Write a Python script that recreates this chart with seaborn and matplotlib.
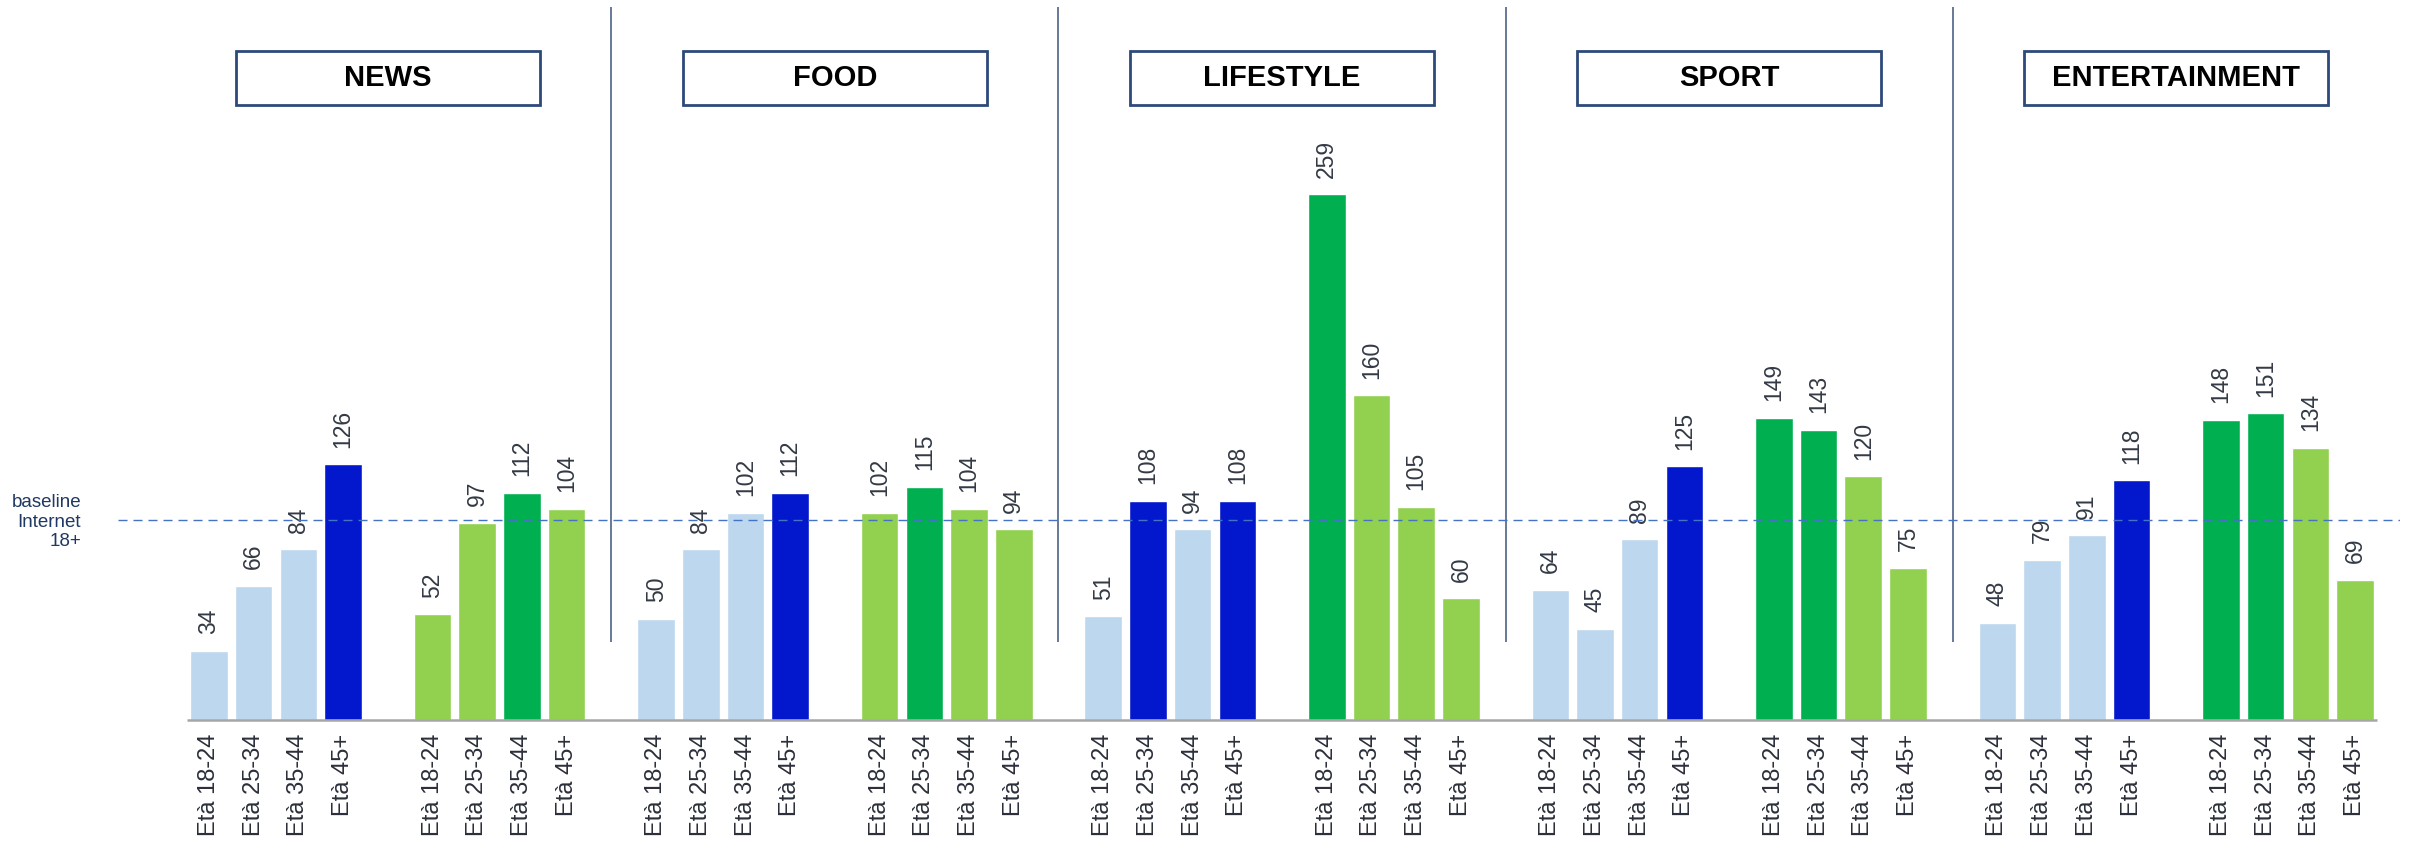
import matplotlib
matplotlib.use("Agg")
import matplotlib.pyplot as plt
import matplotlib.transforms as mtransforms
from matplotlib.patches import Rectangle
import seaborn as sns
import pandas as pd

# ---------------- data ----------------
categories = ["NEWS", "FOOD", "LIFESTYLE", "SPORT", "ENTERTAINMENT"]
age_labels = ["Età 18-24", "Età 25-34", "Età 35-44", "Età 45+"]
blue_values = [[34, 66, 84, 126],
               [50, 84, 102, 112],
               [51, 108, 94, 108],
               [64, 45, 89, 125],
               [48, 79, 91, 118]]
green_values = [[52, 97, 112, 104],
                [102, 115, 104, 94],
                [259, 160, 105, 60],
                [149, 143, 120, 75],
                [148, 151, 134, 69]]
blue_highlight = [[0, 0, 0, 1], [0, 0, 0, 1], [0, 1, 0, 1], [0, 0, 0, 1], [0, 0, 0, 1]]
green_highlight = [[0, 0, 1, 0], [0, 1, 0, 0], [1, 0, 0, 0], [1, 1, 0, 0], [1, 1, 0, 0]]
baseline_value = 98.5   # position of the dashed line
baseline_label = "baseline\nInternet\n18+"

palette = {"blue": "#BDD7EE", "blue_hi": "#0318CC",
           "green": "#92D050", "green_hi": "#00B050"}

# ---------------- build table ----------------
rows = []
for c, cat in enumerate(categories):
    for g, (vals, hi, base) in enumerate([(blue_values[c], blue_highlight[c], "blue"),
                                           (green_values[c], green_highlight[c], "green")]):
        for i, v in enumerate(vals):
            pos = c * 10 + g * 5 + i
            rows.append({"pos": pos, "value": v, "label": age_labels[i],
                         "shade": base + ("_hi" if hi[i] else ""), "category": cat})
df = pd.DataFrame(rows)

# ---------------- figure ----------------
sns.set_theme(style="white")
plt.rcParams["font.family"] = ["Liberation Sans", "DejaVu Sans"]

W, H, DPI = 2410, 841, 100
fig = plt.figure(figsize=(W / DPI, H / DPI), dpi=DPI)
px_per_unit = 2.03
slot = 44.71
x_left_px, x_right_px = 118, 2400
first_center_px = 209
xmin = (x_left_px - first_center_px) / slot
xmax = (x_right_px - first_center_px) / slot
ymax = 352
axis_y_px = 720
ax = fig.add_axes([x_left_px / W, (H - axis_y_px) / H,
                   (x_right_px - x_left_px) / W, ymax * px_per_unit / H])

sns.barplot(data=df, x="pos", y="value", hue="shade", palette=palette,
            native_scale=True, dodge=False, width=0.84, legend=False,
            saturation=1, ax=ax, errorbar=None)

ax.set_xlim(xmin, xmax)
ax.set_ylim(0, ymax)
for s in ax.spines.values():
    s.set_visible(False)
ax.set_yticks([])
ax.set_xlabel("")
ax.set_ylabel("")
ax.set_xticks(df["pos"])
ax.set_xticklabels(df["label"], rotation=90, fontsize=17, color="#2B2F3A")
ax.tick_params(axis="x", length=0, pad=10)

# bottom axis line
ax.hlines(0, -0.5, df["pos"].max() + 0.5, color="#A6A6A6", lw=1.8, zorder=3, clip_on=False)

# baseline dashed line
ax.axhline(baseline_value, color="#4472C4", lw=1.0, ls=(0, (6.5, 4.3)), zorder=4)
trans = mtransforms.blended_transform_factory(fig.transFigure, ax.transData)
ax.text(81 / W, baseline_value - 1, baseline_label, transform=trans, ha="right", va="center",
        fontsize=13.5, color="#1F3864", linespacing=1.2)

# value labels
for _, r in df.iterrows():
    ax.annotate(f"{r['value']}", (r["pos"], r["value"]), xytext=(0, 12),
                textcoords="offset points", rotation=90, ha="center", va="bottom",
                fontsize=16.5, color="#333A45")

# separators
n_cat = len(categories)
for c in range(1, n_cat):
    ax.vlines(c * 10 - 1, 38.5, 351, color="#5B6E8F", lw=1.3, clip_on=False, zorder=1)

# category title boxes
half_w = 3.4
for c, cat in enumerate(categories):
    cx = c * 10 + 4
    ax.add_patch(Rectangle((cx - half_w, 303), 2 * half_w, 26.6, facecolor="white",
                           edgecolor="#2E4A7A", lw=2.0, clip_on=False, zorder=5))
    ax.text(cx, 316.3, cat, ha="center", va="center", fontsize=21, fontweight="bold",
            color="black", zorder=6)

fig.savefig("out.png", dpi=DPI, facecolor="white")
